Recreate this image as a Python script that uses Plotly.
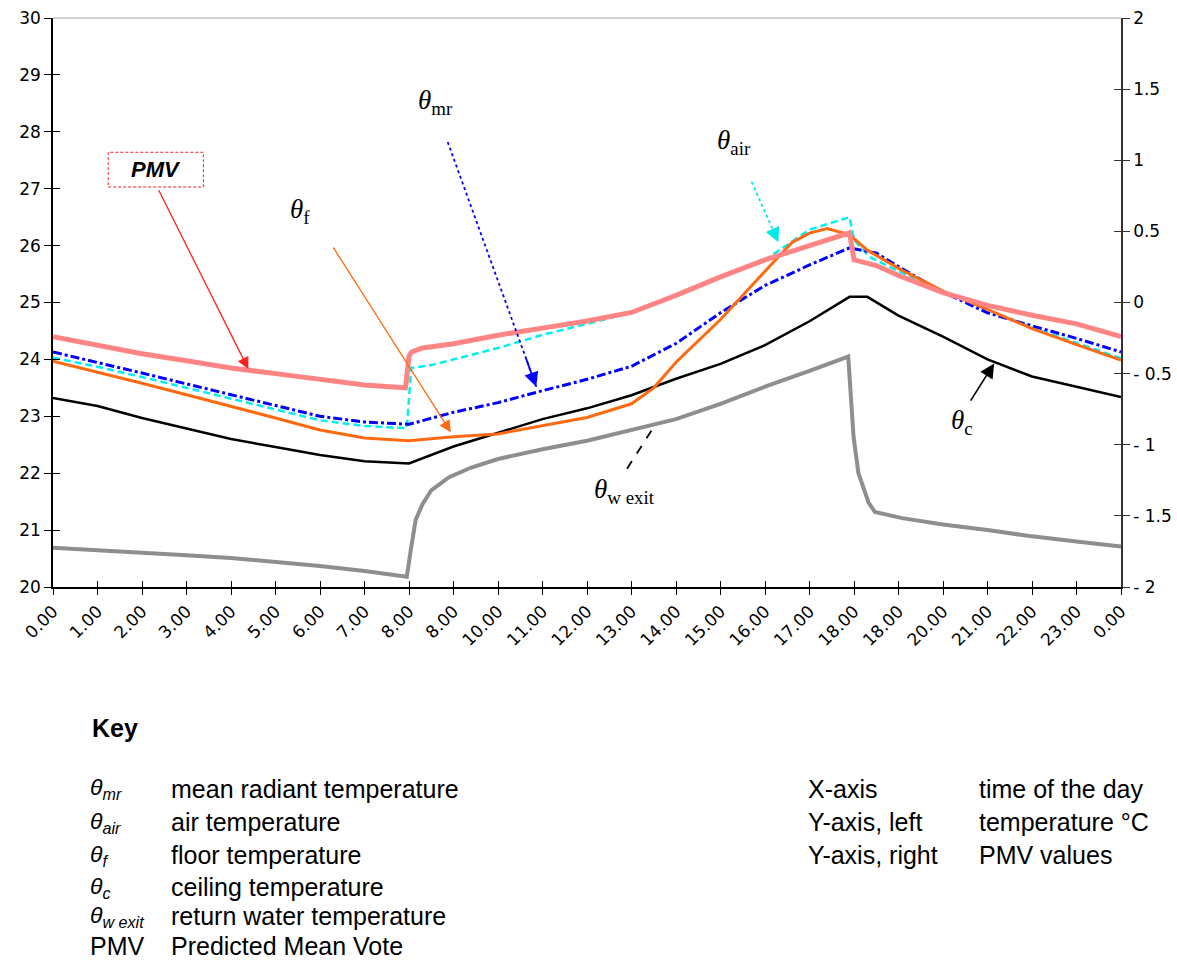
import plotly.graph_objects as go

# ---- x axis: time of day (25 tick positions, 0..24 h) ----
tick_pos = list(range(25))
tick_text = ["0.00", "1.00", "2.00", "3.00", "4.00", "5.00", "6.00", "7.00", "8.00",
             "8.00", "10.00", "11.00", "12.00", "13.00", "14.00", "15.00", "16.00",
             "17.00", "18.00", "18.00", "20.00", "21.00", "22.00", "23.00", "0.00"]

# ---- mean radiant temperature ----
mr_h = [0, 1, 2, 3, 4, 5, 6, 7, 8, 9, 10, 11, 12, 13, 14, 15, 16, 17, 17.9, 18.5, 19, 20, 21, 22, 23, 24]
mr_t = [24.13, 23.95, 23.76, 23.57, 23.38, 23.2, 23.0, 22.9, 22.86, 23.07, 23.24, 23.45, 23.65,
        23.88, 24.28, 24.82, 25.3, 25.66, 25.96, 25.87, 25.63, 25.18, 24.82, 24.59, 24.37, 24.13]

# ---- air temperature ----
air_h = [0, 1, 2, 3, 4, 5, 6, 7, 7.95, 8.05, 8.5, 9, 10, 11, 12, 13, 14, 15, 16, 17, 17.9, 18.0,
         18.35, 19, 20, 21, 22, 23, 24]
air_t = [24.03, 23.87, 23.69, 23.5, 23.3, 23.12, 22.93, 22.83, 22.79, 23.85, 23.9, 24.0, 24.2,
         24.43, 24.63, 24.82, 25.13, 25.45, 25.75, 26.28, 26.5, 26.1, 25.8, 25.55, 25.2, 24.87,
         24.56, 24.29, 24.02]

# ---- floor temperature ----
floor_h = [0, 1, 2, 3, 4, 5, 6, 7, 8, 9, 10, 11, 12, 13, 13.5, 14, 15, 16, 16.6, 17, 17.4, 17.9,
           18.3, 19, 20, 21, 22, 23, 24]
floor_t = [23.97, 23.78, 23.58, 23.38, 23.18, 22.97, 22.76, 22.62, 22.57, 22.64, 22.69, 22.83,
           22.98, 23.22, 23.5, 23.95, 24.7, 25.55, 26.05, 26.22, 26.3, 26.19, 25.92, 25.6, 25.2,
           24.88, 24.54, 24.26, 23.99]

# ---- ceiling temperature ----
ceil_h = [0, 1, 2, 3, 4, 5, 6, 7, 8, 9, 10, 11, 12, 13, 14, 15, 16, 17, 17.9, 18.3, 19, 20, 21,
          22, 23, 24]
ceil_t = [23.32, 23.18, 22.97, 22.79, 22.6, 22.46, 22.32, 22.21, 22.17, 22.47, 22.71, 22.95,
          23.14, 23.37, 23.66, 23.92, 24.25, 24.67, 25.1, 25.1, 24.77, 24.4, 24.0, 23.7, 23.52,
          23.34]

# ---- return water temperature ----
wexit_h = [0, 1, 2, 3, 4, 5, 6, 7, 7.95, 8.05, 8.15, 8.3, 8.5, 8.9, 9.4, 10, 11, 12, 13, 14,
           15, 16, 17, 17.87, 17.99, 18.1, 18.33, 18.47, 19.08, 20, 21, 22, 23, 24]
wexit_t = [20.69, 20.65, 20.61, 20.56, 20.51, 20.44, 20.37, 20.28, 20.18, 20.7, 21.18, 21.45,
           21.7, 21.93, 22.1, 22.25, 22.42, 22.57, 22.76, 22.95, 23.22, 23.52, 23.8, 24.05, 22.64,
           22.0, 21.48, 21.32, 21.21, 21.1, 21.0, 20.89, 20.8, 20.71]

# ---- Predicted Mean Vote (right axis) ----
pmv_h = [0, 1, 2, 3, 4, 5, 6, 7, 7.92, 8.0, 8.05, 8.3, 9, 10, 11, 12, 13, 14, 15, 16, 17, 17.9,
         18.0, 18.5, 19, 20, 21, 22, 23, 24]
pmv_v = [-0.24, -0.30, -0.36, -0.41, -0.46, -0.50, -0.54, -0.58, -0.60, -0.38, -0.35, -0.32,
         -0.29, -0.23, -0.18, -0.13, -0.07, 0.05, 0.18, 0.30, 0.40, 0.49, 0.30, 0.26, 0.19, 0.07,
         -0.02, -0.09, -0.15, -0.24]

pmv_ticks = [-2, -1.5, -1, -0.5, 0, 0.5, 1, 1.5, 2]
pmv_ticktext = ["- 2", "- 1.5", "- 1", "- 0.5", "0", "0.5", "1", "1.5", "2"]

TICKFONT = dict(family="DejaVu Sans", size=17, color="#000000")
SERIF = "Liberation Serif"
SANS = "Liberation Sans"

fig = go.Figure()

fig.add_trace(go.Scatter(x=wexit_h, y=wexit_t, mode="lines", name="θw exit",
                         line=dict(color="#8e8e8e", width=4)))
fig.add_trace(go.Scatter(x=ceil_h, y=ceil_t, mode="lines", name="θc",
                         line=dict(color="#000000", width=2.5)))
fig.add_trace(go.Scatter(x=air_h, y=air_t, mode="lines", name="θair",
                         line=dict(color="#00f0f0", width=2.5, dash="7px,4px")))
fig.add_trace(go.Scatter(x=mr_h, y=mr_t, mode="lines", name="θmr",
                         line=dict(color="#0000ff", width=3, dash="9px,3px,3px,3px")))
fig.add_trace(go.Scatter(x=floor_h, y=floor_t, mode="lines", name="θf",
                         line=dict(color="#ff6a10", width=3)))
fig.add_trace(go.Scatter(x=pmv_h, y=pmv_v, mode="lines", name="PMV", yaxis="y2",
                         line=dict(color="#ff8585", width=5)))

# empty traces that carry the inner half of the crossing tick marks
fig.add_trace(go.Scatter(x=[None], y=[None], xaxis="x2", yaxis="y3", showlegend=False,
                         hoverinfo="skip"))
fig.add_trace(go.Scatter(x=[None], y=[None], xaxis="x", yaxis="y4", showlegend=False,
                         hoverinfo="skip"))

shapes = []
annotations = []

# top border of the plot area
shapes.append(dict(type="line", xref="paper", yref="paper", x0=0, x1=1, y0=1, y1=1,
                   line=dict(color="#a8a8a8", width=1)))

# PMV call-out box
shapes.append(dict(type="rect", xref="x", yref="y", x0=1.24, x1=3.38, y0=27.03, y1=27.64,
                   line=dict(color="#ff2020", width=1, dash="3px,2px")))
annotations.append(dict(x=2.31, y=27.34, xref="x", yref="y", text="<b><i>PMV</i></b>",
                        showarrow=False, font=dict(family=SANS, size=22, color="#000000")))


def arrow(start, tip, color, width=1.2, dash=None):
    """Call-out arrow from start to tip in data coordinates."""
    if dash is None:
        annotations.append(dict(x=tip[0], y=tip[1], ax=start[0], ay=start[1], xref="x", yref="y",
                                axref="x", ayref="y", text="", showarrow=True, arrowhead=2,
                                arrowsize=1.8, arrowwidth=width, arrowcolor=color))
    else:
        shapes.append(dict(type="line", xref="x", yref="y", x0=start[0], y0=start[1],
                           x1=tip[0], y1=tip[1], line=dict(color=color, width=width + 0.6, dash=dash)))
        f = 0.12
        tail = (tip[0] - f * (tip[0] - start[0]), tip[1] - f * (tip[1] - start[1]))
        annotations.append(dict(x=tip[0], y=tip[1], ax=tail[0], ay=tail[1], xref="x", yref="y",
                                axref="x", ayref="y", text="", showarrow=True, arrowhead=2,
                                arrowsize=1.6, arrowwidth=width + 0.6, arrowcolor=color))


arrow((2.36, 27.0), (4.39, 23.83), "#ff2020", 1.3)
arrow((6.28, 25.99), (8.94, 22.72), "#ff6a10", 1.3)
arrow((8.87, 27.82), (10.86, 23.52), "#0000ff", 1.2, dash="dot")
arrow((15.7, 27.12), (16.3, 26.06), "#00e8e8", 1.2, dash="dot")
arrow((20.6, 23.25), (21.15, 23.93), "#000000", 1.6)
arrow((12.9, 22.08), (13.45, 22.75), "#000000", 1.2, dash="dash")


# series labels
def label(x, y, html):
    annotations.append(dict(x=x, y=y, xref="x", yref="y", text=html, showarrow=False,
                            font=dict(family=SERIF, size=27, color="#000000")))


label(8.6, 28.52, "<i>θ</i><sub>mr</sub>")
label(15.3, 27.82, "<i>θ</i><sub>air</sub>")
label(5.56, 26.6, "<i>θ</i><sub>f</sub>")
label(20.43, 22.9, "<i>θ</i><sub>c</sub>")
label(12.85, 21.68, "<i>θ</i><sub>w exit</sub>")

# key underneath the chart
PLOT_L, PLOT_W, PLOT_B, PLOT_H = 53, 1068, 587, 569


def px(xp):
    return (xp - PLOT_L) / PLOT_W


def py(yp):
    return (PLOT_B - yp) / PLOT_H


KEYFONT = dict(family=SANS, size=25, color="#000000")
SYMFONT = dict(family=SANS, size=23, color="#000000")
annotations.append(dict(x=px(90), y=py(728), xref="paper", yref="paper", text="<b>Key</b>",
                        xanchor="left", yanchor="middle", showarrow=False, font=KEYFONT))

key_syms = ["<i>θ<sub>mr</sub></i>", "<i>θ<sub>air</sub></i>", "<i>θ<sub>f</sub></i>",
            "<i>θ<sub>c</sub></i>", "<i>θ<sub>w exit</sub></i>", "PMV"]
key_desc = ["mean radiant temperature", "air temperature", "floor temperature",
            "ceiling temperature", "return water temperature", "Predicted Mean Vote"]
key_rows = [789, 822, 855, 887, 916, 946]
for i, (sym, desc, yr) in enumerate(zip(key_syms, key_desc, key_rows)):
    annotations.append(dict(x=px(88), y=py(yr), xref="paper", yref="paper", text=sym,
                            xanchor="left", yanchor="middle", showarrow=False,
                            font=KEYFONT if sym == "PMV" else SYMFONT))
    annotations.append(dict(x=px(169), y=py(yr), xref="paper", yref="paper", text=desc,
                            xanchor="left", yanchor="middle", showarrow=False, font=KEYFONT))

axis_names = ["X-axis", "Y-axis, left", "Y-axis, right"]
axis_desc = ["time of the day", "temperature °C", "PMV values"]
for nm, desc, yr in zip(axis_names, axis_desc, key_rows[:3]):
    annotations.append(dict(x=px(806), y=py(yr), xref="paper", yref="paper", text=nm,
                            xanchor="left", yanchor="middle", showarrow=False, font=KEYFONT))
    annotations.append(dict(x=px(977), y=py(yr), xref="paper", yref="paper", text=desc,
                            xanchor="left", yanchor="middle", showarrow=False, font=KEYFONT))

fig.update_layout(
    width=1177, height=960,
    margin=dict(l=53, r=56, t=18, b=373, autoexpand=False),
    paper_bgcolor="white", plot_bgcolor="white",
    showlegend=False,
    xaxis=dict(range=[0, 24], tickmode="array", tickvals=tick_pos, ticktext=tick_text,
               tickangle=-45, ticks="outside", ticklen=6, tickwidth=1.3, tickcolor="#000",
               showline=True, linecolor="#000", linewidth=1.5, showgrid=False, zeroline=False,
               tickfont=TICKFONT, automargin=False),
    xaxis2=dict(range=[0, 24], overlaying="x", anchor="y", tickmode="array", tickvals=tick_pos,
                ticks="inside", ticklen=6, tickwidth=1.3, tickcolor="#000", showticklabels=False,
                showline=False, showgrid=False, zeroline=False, automargin=False),
    yaxis=dict(range=[20, 30], dtick=1, ticks="outside", ticklen=7, tickwidth=1.3, tickcolor="#000",
               showline=True, linecolor="#000", linewidth=1.5, showgrid=False, zeroline=False,
               tickfont=TICKFONT, automargin=False),
    yaxis2=dict(range=[-2, 2], overlaying="y", side="right", tickmode="array", tickvals=pmv_ticks,
                ticktext=pmv_ticktext, ticks="outside", ticklen=7, tickwidth=1.3, tickcolor="#333",
                showline=True, linecolor="#333", linewidth=1.5, showgrid=False, zeroline=False,
                tickfont=TICKFONT, automargin=False),
    yaxis3=dict(range=[20, 30], dtick=1, overlaying="y", side="left", anchor="x", ticks="inside",
                ticklen=7, tickwidth=1.3, tickcolor="#000", showticklabels=False, showline=False,
                showgrid=False, zeroline=False, automargin=False),
    yaxis4=dict(range=[-2, 2], overlaying="y", side="right", anchor="x", tickmode="array",
                tickvals=pmv_ticks, ticks="inside", ticklen=7, tickwidth=1.3, tickcolor="#333",
                showticklabels=False, showline=False, showgrid=False, zeroline=False,
                automargin=False),
    shapes=shapes,
    annotations=annotations,
)

fig.write_html("out.html")
